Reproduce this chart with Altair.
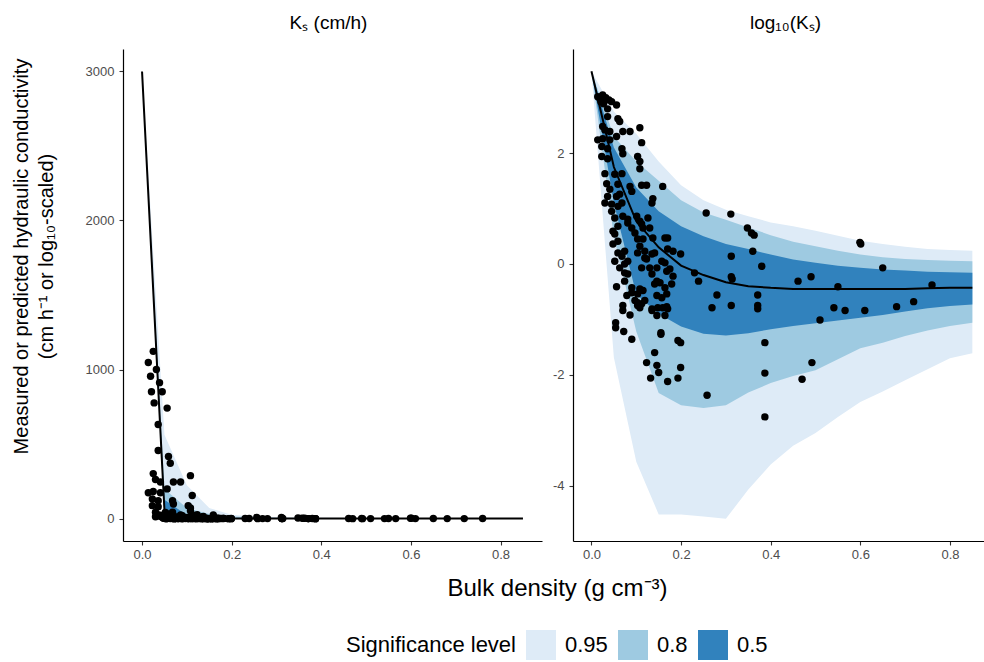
import altair as alt
import pandas as pd

FONT = "Liberation Sans"

# ---- prediction grid (bulk density) and log10(Ks) quantile bands ----
grid_bd = [0.0, 0.05, 0.10, 0.15, 0.20, 0.25, 0.30, 0.35, 0.40, 0.45,
           0.50, 0.55, 0.60, 0.65, 0.70, 0.75, 0.80, 0.85]
hi95 = [3.477, 2.75, 2.35, 1.85, 1.42, 1.15, 0.98, 0.86, 0.75, 0.68,
        0.60, 0.51, 0.42, 0.36, 0.31, 0.27, 0.25, 0.24]
hi80 = [3.477, 2.30, 1.85, 1.50, 1.15, 0.93, 0.80, 0.66, 0.52, 0.40,
        0.32, 0.24, 0.17, 0.12, 0.09, 0.07, 0.06, 0.05]
hi50 = [3.477, 2.10, 1.38, 0.95, 0.68, 0.50, 0.36, 0.27, 0.17, 0.08,
        0.02, -0.03, -0.07, -0.10, -0.12, -0.14, -0.15, -0.16]
lo50 = [3.477, 1.10, -0.55, -0.90, -1.13, -1.26, -1.29, -1.25, -1.18, -1.12,
        -1.07, -1.02, -0.97, -0.92, -0.86, -0.80, -0.76, -0.73]
lo80 = [3.477, 0.50, -1.22, -2.33, -2.55, -2.60, -2.55, -2.32, -2.15, -2.02,
        -1.92, -1.72, -1.52, -1.42, -1.30, -1.20, -1.12, -1.06]
lo95 = [3.477, -1.69, -3.57, -4.52, -4.52, -4.56, -4.60, -4.07, -3.62, -3.28,
        -3.05, -2.76, -2.49, -2.30, -2.10, -1.90, -1.70, -1.61]
median_lk = [3.477, 1.75, 0.77, 0.30, -0.03, -0.20, -0.33, -0.40, -0.43, -0.45,
             -0.45, -0.45, -0.45, -0.45, -0.45, -0.44, -0.43, -0.43]

levels = ["0.95", "0.8", "0.5"]
level_colors = ["#DEEBF7", "#9ECAE1", "#3182BD"]

# ---- measured samples: bulk density and log10(Ks) ----
obs_bd = [
    0.014, 0.025, 0.032, 0.039, 0.045, 0.021, 0.027, 0.019, 0.056, 0.036,
    0.036, 0.059, 0.063, 0.025, 0.030, 0.041, 0.070, 0.086, 0.108, 0.014,
    0.025, 0.041, 0.056, 0.023, 0.036, 0.068, 0.070, 0.112, 0.023, 0.036,
    0.103, 0.108, 0.108, 0.030, 0.052, 0.068, 0.034, 0.059, 0.086, 0.090,
    0.112, 0.123, 0.159, 0.041, 0.036, 0.056, 0.063, 0.030, 0.045, 0.068,
    0.137, 0.135, 0.059, 0.256, 0.311, 0.348, 0.357, 0.363, 0.045, 0.052,
    0.070, 0.081, 0.059, 0.090, 0.101, 0.108, 0.126, 0.130, 0.097, 0.115,
    0.048, 0.052, 0.059, 0.048, 0.103, 0.115, 0.108, 0.119, 0.103, 0.135,
    0.137, 0.164, 0.170, 0.170, 0.182, 0.199, 0.059, 0.068, 0.052, 0.074,
    0.063, 0.074, 0.081, 0.123, 0.130, 0.146, 0.164, 0.168, 0.175, 0.182,
    0.056, 0.074, 0.090, 0.079, 0.108, 0.115, 0.097, 0.103, 0.141, 0.153,
    0.164, 0.146, 0.157, 0.168, 0.230, 0.239, 0.070, 0.108, 0.135, 0.159,
    0.168, 0.312, 0.360, 0.380, 0.312, 0.314, 0.461, 0.490, 0.550, 0.280,
    0.269, 0.312, 0.371, 0.371, 0.371, 0.541, 0.566, 0.610, 0.681, 0.719,
    0.510, 0.387, 0.492, 0.387, 0.470, 0.258, 0.387, 0.601, 0.599, 0.650,
    0.760, 0.090, 0.103, 0.112, 0.119, 0.135, 0.148, 0.146, 0.164, 0.170,
    0.070, 0.086, 0.054, 0.054, 0.072, 0.090, 0.155, 0.155, 0.193, 0.199,
    0.141, 0.123, 0.146, 0.150, 0.199, 0.132, 0.170, 0.193, 0.074, 0.081,
    0.119, 0.141, 0.157, 0.112, 0.135, 0.146, 0.103, 0.081, 0.112, 0.179,
]
obs_lk = [
    3.02, 3.05, 3.00, 2.96, 2.93, 2.93, 2.89, 2.98, 2.87, 2.80,
    2.66, 2.62, 2.57, 2.48, 2.42, 2.39, 2.39, 2.39, 2.46, 2.24,
    2.26, 2.24, 2.30, 2.12, 2.08, 2.08, 1.99, 2.19, 1.94, 1.90,
    1.94, 1.85, 1.72, 1.63, 1.62, 1.63, 1.45, 1.44, 1.40, 1.31,
    1.42, 1.42, 1.40, 1.35, 1.22, 1.22, 1.26, 1.10, 1.08, 1.10,
    1.18, 1.10, 1.04, 0.92, 0.90, 0.65, 0.56, 0.52, 0.95, 0.83,
    0.86, 0.74, 0.68, 0.65, 0.86, 0.77, 0.83, 0.65, 0.56, 0.65,
    0.59, 0.54, 0.41, 0.36, 0.45, 0.45, 0.32, 0.23, 0.20, 0.18,
    0.47, 0.47, 0.47, 0.27, 0.23, 0.18, 0.20, 0.14, 0.05, 0.00,
    -0.07, -0.16, -0.18, 0.09, -0.07, -0.07, 0.02, -0.13, -0.09, -0.22,
    -0.41, -0.31, -0.43, -0.57, -0.45, -0.48, -0.66, -0.70, -0.36, -0.34,
    -0.43, -0.57, -0.61, -0.54, -0.16, -0.31, -0.75, -0.79, -0.81, -0.79,
    -0.77, 0.14, 0.23, -0.04, -0.23, -0.27, -0.31, -0.23, -0.41, -0.56,
    -0.79, -0.75, -0.56, -0.75, -0.81, -0.79, -0.84, -0.84, -0.77, -0.68,
    -1.01, -1.42, -1.78, -1.97, -2.08, -2.37, -2.76, 0.36, 0.39, -0.07,
    -0.38, -0.52, -0.75, -0.72, -0.66, -0.84, -0.79, -0.93, -0.93, -0.81,
    -0.84, -0.92, -1.06, -1.15, -1.22, -1.36, -1.24, -1.27, -1.38, -1.42,
    -1.60, -1.78, -1.83, -1.96, -1.87, -2.06, -2.12, -2.06, 0.23, 0.05,
    0.11, 0.20, 0.05, -0.07, -0.18, -0.31, -0.54, 0.81, 0.72, -0.36,
]

# ---- tables ----
band_rows = []
for lev, lo, hi in [("0.95", lo95, hi95), ("0.8", lo80, hi80), ("0.5", lo50, hi50)]:
    for b, l, h in zip(grid_bd, lo, hi):
        band_rows.append({"bd": b, "lo": l, "hi": h, "level": lev})
bands = pd.DataFrame(band_rows)
median = pd.DataFrame({"bd": grid_bd, "lk": median_lk})
obs = pd.DataFrame({"bd": obs_bd, "lk": obs_lk})

color_enc = alt.Color(
    "level:N",
    scale=alt.Scale(domain=levels, range=level_colors),
    legend=alt.Legend(title="Significance level"),
)

ax_style = dict(
    domainColor="black", domainWidth=1.2, tickColor="#333333", tickWidth=1.1,
    tickSize=4, labelColor="#4D4D4D", labelFont=FONT, labelFontSize=13,
    grid=False,
)


def panel(log_scale, xdom, width, title_text, title_dx):
    if log_scale:
        ydom = [-5.0, 3.88]
        yaxis = alt.Axis(values=[-4, -2, 0, 2], labelExpr="'' + datum.value",
                         title=None, labelPadding=5, **ax_style)
        xaxis = alt.Axis(values=[0, 0.2, 0.4, 0.6, 0.8], format=".1f",
                         title=None, labelPadding=3, **ax_style)
        lo_f, hi_f, y_f = "lo", "hi", "lk"
    else:
        ydom = [-150, 3150]
        yaxis = alt.Axis(
            values=[0, 1000, 2000, 3000], format="d", labelPadding=5,
            title=["Measured or predicted hydraulic conductivity",
                   "(cm h\u207b\u00b9 or log\u2081\u2080-scaled)"],
            titleFont=FONT, titleFontSize=20, titleFontWeight="normal",
            titleColor="black", titleLineHeight=25, titleAngle=270,
            titleAlign="center", titleBaseline="alphabetic",
            titleX=-96, titleY=207, **ax_style)
        xaxis = alt.Axis(
            values=[0, 0.2, 0.4, 0.6, 0.8], format=".1f", labelPadding=3,
            title="Bulk density (g cm\u207b\u00b3)",
            titleFont=FONT, titleFontSize=24, titleFontWeight="normal",
            titleColor="black", titleAlign="center", titleBaseline="alphabetic",
            titleX=434, titleY=54, **ax_style)
        lo_f, hi_f, y_f = "lo_k", "hi_k", "k"

    xs = alt.Scale(domain=xdom, nice=False, zero=False)
    ys = alt.Scale(domain=ydom, nice=False, zero=False)

    layers = []
    for lev in levels:
        base = alt.Chart(bands).transform_filter(alt.datum.level == lev)
        if not log_scale:
            base = base.transform_calculate(lo_k="pow(10, datum.lo)",
                                            hi_k="pow(10, datum.hi)")
        layers.append(
            base.mark_area(clip=True).encode(
                x=alt.X("bd:Q", scale=xs, axis=xaxis),
                y=alt.Y(f"{lo_f}:Q", scale=ys, axis=yaxis),
                y2=alt.Y2(f"{hi_f}:Q"),
                color=color_enc,
            )
        )
    line_base = alt.Chart(median)
    pts_base = alt.Chart(obs)
    if not log_scale:
        line_base = line_base.transform_calculate(k="pow(10, datum.lk)")
        pts_base = pts_base.transform_calculate(k="pow(10, datum.lk)")
    layers.append(
        line_base.mark_line(color="black", strokeWidth=2, clip=True).encode(
            x=alt.X("bd:Q", scale=xs, axis=xaxis),
            y=alt.Y(f"{y_f}:Q", scale=ys, axis=yaxis),
        )
    )
    layers.append(
        pts_base.mark_circle(color="black", opacity=1, size=55, clip=True).encode(
            x=alt.X("bd:Q", scale=xs, axis=xaxis),
            y=alt.Y(f"{y_f}:Q", scale=ys, axis=yaxis),
        )
    )
    return alt.layer(*layers).properties(
        width=width, height=492,
        title=alt.TitleParams(title_text, font=FONT, fontSize=19,
                              fontWeight="normal", color="black",
                              anchor="middle", offset=16, dx=title_dx),
    )


left = panel(False, [-0.0425, 0.8925], 419, "K\u209b (cm/h)", -4)
right = panel(True, [-0.0412, 0.876], 411, "log\u2081\u2080(K\u209b)", 7)

chart = (
    alt.hconcat(left, right, spacing=31, bounds="flush")
    .properties(padding={"left": 10, "top": 14, "right": 0, "bottom": 0},
                background="white")
    .configure_view(stroke=None)
    .configure_legend(
        orient="none", legendX=223, legendY=581, direction="horizontal",
        titleOrient="left", titleFont=FONT, titleFontSize=22,
        titleFontWeight="normal", titleColor="black", titlePadding=10,
        titleBaseline="middle",
        labelFont=FONT, labelFontSize=22, labelColor="black", labelOffset=9,
        columnPadding=10, symbolType="square", symbolSize=900,
        symbolStrokeWidth=0,
    )
)

chart.save("out.html", embed_options={"renderer": "svg", "actions": False})
